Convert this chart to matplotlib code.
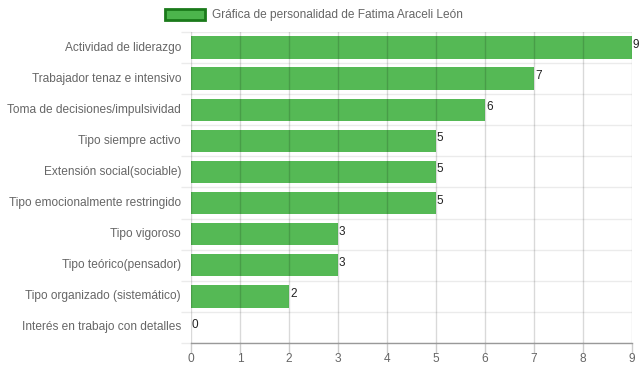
import matplotlib.pyplot as plt
import numpy as np
import matplotlib.transforms as mtransforms
from matplotlib.patches import Patch

plt.rcParams['font.family'] = ['Liberation Sans', 'DejaVu Sans']

categorias = [
    'Actividad de liderazgo',
    'Trabajador tenaz e intensivo',
    'Toma de decisiones/impulsividad',
    'Tipo siempre activo',
    'Extensión social(sociable)',
    'Tipo emocionalmente restringido',
    'Tipo vigoroso',
    'Tipo teórico(pensador)',
    'Tipo organizado (sistemático)',
    'Interés en trabajo con detalles',
]
valores = [9, 7, 6, 5, 5, 5, 3, 3, 2, 0]
x_ticks = list(range(0, 10))
titulo = 'Gráfica de personalidad de Fatima Araceli León'

W, H = 639, 372
fig = plt.figure(figsize=(W / 100, H / 100), dpi=100)
# area del grafico en pixeles
left, right, top, bottom = 191, 632, 32, 343
ax = fig.add_axes([left / W, 1 - bottom / H, (right - left) / W, (bottom - top) / H])

verde = '#4cb54c'
y = np.arange(len(categorias))
ax.barh(y, valores, height=0.72, color=verde, alpha=0.95, zorder=2)

for yi, v in zip(y, valores):
    ax.text(v + 0.02, yi - 0.08, str(v), ha='left', va='center', fontsize=8.5, color='#222222', zorder=4)

ax.set_xlim(0, 9)
ax.set_ylim(len(categorias) - 0.5, -0.5)

# rejilla vertical
for t in x_ticks:
    ax.axvline(t, color='#000000', alpha=0.15, lw=1, zorder=3)
# rejilla horizontal entre categorias
for b in np.arange(-0.5, len(categorias), 1.0):
    ax.axhline(b, color='#000000', alpha=0.08, lw=1, zorder=1)

ax.set_xticks(x_ticks)
ax.set_xticklabels([str(t) for t in x_ticks])
ax.set_yticks(y)
ax.set_yticklabels(categorias)
ax.tick_params(axis='x', length=7, width=1, color='#cccccc', labelsize=8.6, labelcolor='#666666', pad=0.5)
ax.tick_params(axis='y', length=0, labelsize=8.55, labelcolor='#666666', pad=7.2)
ax.set_yticks(np.arange(-0.5, len(categorias), 1.0), minor=True)
ax.tick_params(axis='y', which='minor', length=7, color='#ebebeb', width=1)

# subir un poco las etiquetas de categorias
off = mtransforms.ScaledTranslation(0, 1.5 / 100, fig.dpi_scale_trans)
for lbl in ax.get_yticklabels():
    lbl.set_transform(lbl.get_transform() + off)

for s in ['top', 'right', 'left']:
    ax.spines[s].set_visible(False)
ax.spines['bottom'].set_color('#999999')
ax.spines['bottom'].set_linewidth(1)

# leyenda
handle = Patch(facecolor=verde, edgecolor='#1a7a1a', linewidth=2)
fig.legend([handle], [titulo], loc='center', bbox_to_anchor=(314 / W, 1 - 15 / H),
           frameon=False, fontsize=8.6, handlelength=3.3, handleheight=1.1,
           handletextpad=0.6, labelcolor='#666666')

fig.savefig('out.png', dpi=100)
